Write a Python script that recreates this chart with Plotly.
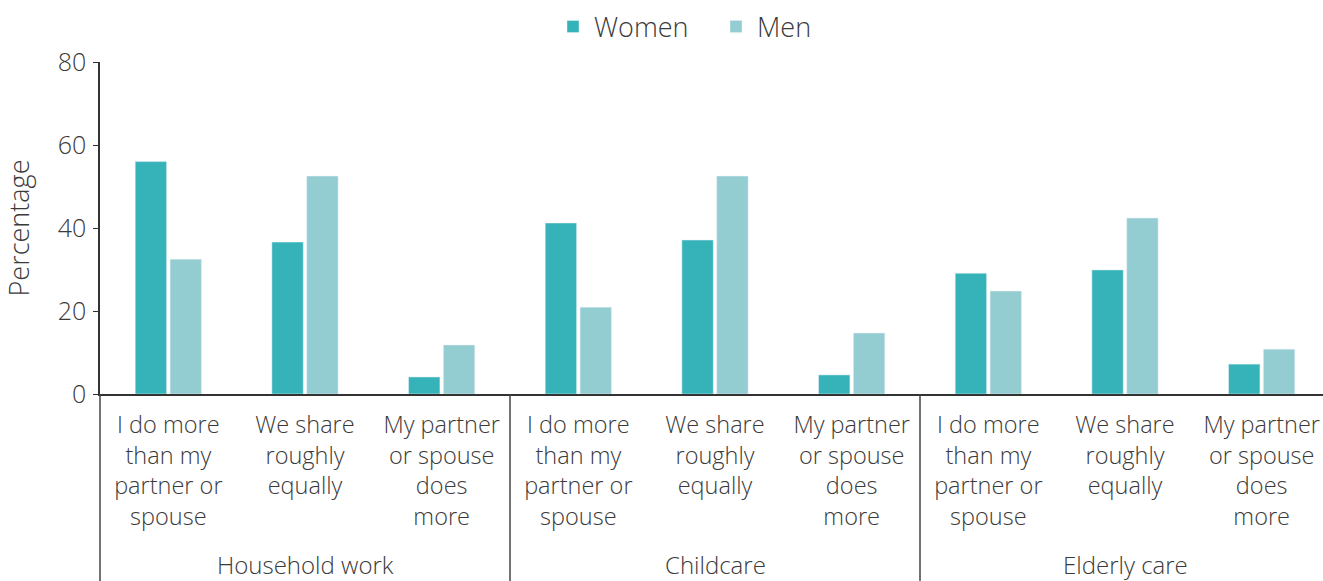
import plotly.graph_objects as go

groups = ["Household work", "Childcare", "Elderly care"]
responses = ["I do more<br>than my<br>partner or<br>spouse",
             "We share<br>roughly<br>equally",
             "My partner<br>or spouse<br>does<br>more"]
women = [56.0, 36.6, 4.1, 41.2, 37.1, 4.6, 29.1, 29.9, 7.2]
men = [32.5, 52.5, 11.8, 20.9, 52.5, 14.7, 24.8, 42.4, 10.8]
y_ticks = [0, 20, 40, 60, 80]

n_resp = len(responses)
n_grp = len(groups)
x_pos = list(range(n_grp * n_resp))
tick_text = [r for _ in groups for r in responses]

TEXT = "#3a3a3a"
FONT = "Open Sans"
W, H = 1330, 581
PLOT_TOP, PLOT_BOTTOM = 62, 394
plot_h = PLOT_BOTTOM - PLOT_TOP

fig = go.Figure()
fig.add_trace(go.Bar(name="Women", x=x_pos, y=women, marker_color="#36b3b9"))
fig.add_trace(go.Bar(name="Men", x=x_pos, y=men, marker_color="#94cdd1"))

fig.update_layout(
    width=W, height=H, autosize=False,
    barmode="group",
    bargap=0.49,
    bargroupgap=0.1,
    plot_bgcolor="white",
    paper_bgcolor="white",
    font=dict(family=FONT, size=24, color=TEXT, weight=300),
    margin=dict(l=100, r=0, t=PLOT_TOP, b=H - PLOT_BOTTOM, autoexpand=False),
    legend=dict(orientation="h", x=0.5, xanchor="center", y=1 - 27 / H, yanchor="middle",
                yref="container", font=dict(size=27, family=FONT, weight=300),
                traceorder="normal", entrywidth=116, itemwidth=32),
    showlegend=True,
)
fig.update_yaxes(range=[0, 80], tickvals=y_ticks, showgrid=False,
                 showline=True, linecolor="#333333", linewidth=1.5,
                 ticks="outside", ticklen=5, tickcolor="#333333", ticklabelstandoff=2,
                 title=dict(text="Percentage", font=dict(size=27, family=FONT, weight=300), standoff=22),
                 tickfont=dict(size=25, family=FONT, weight=300), zeroline=False)
fig.update_xaxes(range=[-0.5, n_grp * n_resp - 0.5], tickvals=x_pos, ticktext=tick_text,
                 showline=True, linecolor="#333333", linewidth=1.5,
                 tickfont=dict(size=23.5, family=FONT, weight=300), showgrid=False, ticks="",
                 ticklabelstandoff=9, zeroline=False)

# group dividers and group labels under the category labels
for k in range(n_grp + 1):
    fig.add_shape(type="line", xref="paper", yref="paper",
                  x0=k / n_grp, x1=k / n_grp, y0=0, y1=-0.7,
                  line=dict(color="#444444", width=1.5))
for k, g in enumerate(groups):
    fig.add_annotation(text=g, xref="x", yref="paper",
                       x=k * n_resp + (n_resp - 1) / 2, y=-(564 - PLOT_BOTTOM) / plot_h,
                       yanchor="middle", showarrow=False,
                       font=dict(size=24, family=FONT, weight=300, color=TEXT))

fig.write_html("out.html", config={"displayModeBar": False},
               post_script="document.body.style.margin='0';document.body.style.overflow='hidden';")
